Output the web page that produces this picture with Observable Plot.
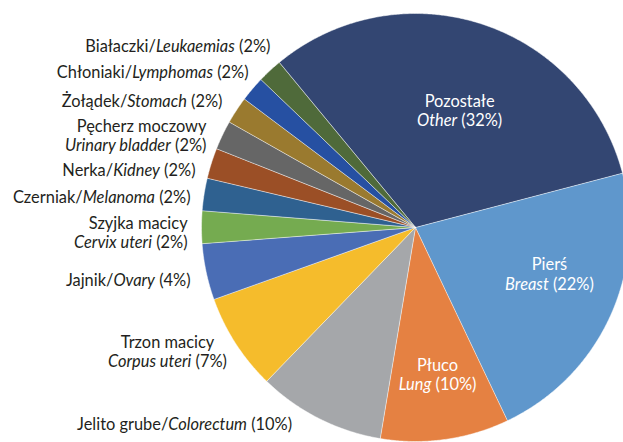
<!DOCTYPE html>
<html><head><meta charset="utf-8">
<script src="https://cdn.jsdelivr.net/npm/d3@7"></script>
<script src="https://cdn.jsdelivr.net/npm/@observablehq/plot@0.6"></script>
<style>
html,body{margin:0;padding:0;background:#fff;}
#chart svg{display:block;}
</style>
</head><body><div id="chart"></div>
<script>
// ---- data ----
const namesPl = ["Pozostałe","Pierś","Płuco","Jelito grube","Trzon macicy","Jajnik","Szyjka macicy","Czerniak","Nerka","Pęcherz moczowy","Żołądek","Chłoniaki","Białaczki"];
const namesEn = ["Other","Breast","Lung","Colorectum","Corpus uteri","Ovary","Cervix uteri","Melanoma","Kidney","Urinary bladder","Stomach","Lymphomas","Leukaemias"];
// slice sizes (%)
const shares  = [31.9,22.0,9.7,9.6,7.3,4.25,2.45,2.45,2.3,2.2,2.05,1.9,1.85];
// percentages as printed in the labels
const shownPct = [32,22,10,10,7,4,2,2,2,2,2,2,2];

// ---- styles ----
const sliceColors = ["#334672","#5f97cc","#e58142","#a5a7aa","#f5bc2c","#4a6db5","#75ab50","#2f6190","#9b4f26","#666666","#9a7a2f","#2650a2","#4f6a3a"];

// ---- layout ----
const W = 623, H = 442, CX = 415, CY = 227, R = 214;
const START = -39.6 * Math.PI / 180;
// label layout: [anchor x, anchor y] in radius units, text anchor, two lines?, inside?
const labelPos = [
  [0.206, 0.547, "middle", true, true],
  [0.626, -0.217, "middle", true, true],
  [0.103, -0.687, "middle", true, true],
  [-1.079, -0.916, "middle", false, false],
  [-1.159, -0.580, "middle", true, false],
  [-1.051, -0.243, "end", false, false],
  [-1.065, -0.021, "end", true, false],
  [-1.051, 0.145, "end", false, false],
  [-1.028, 0.269, "end", false, false],
  [-0.977, 0.432, "end", true, false],
  [-0.902, 0.593, "end", false, false],
  [-0.780, 0.726, "end", false, false],
  [-0.678, 0.850, "end", false, false]
];

const rows = namesPl.map((n, i) => ({name: n, en: namesEn[i], value: shares[i], pct: shownPct[i]}));
const arcs = d3.pie().sort(null).value(d => d.value).startAngle(START).endAngle(START + 2 * Math.PI)(rows);

const pts = [];
for (const a of arcs) {
  pts.push({name: a.data.name, x: 0, y: 0});
  const n = Math.max(2, Math.ceil((a.endAngle - a.startAngle) / (0.4 * Math.PI / 180)));
  for (let k = 0; k <= n; k++) {
    const t = a.startAngle + (a.endAngle - a.startAngle) * k / n;
    pts.push({name: a.data.name, x: Math.sin(t), y: Math.cos(t)});
  }
}

const labels = rows.map((r, i) => {
  const [x, y, anchor, two, inside] = labelPos[i];
  const text = two ? `${r.name}\n*${r.en}* (${r.pct}%)` : `${r.name}/*${r.en}* (${r.pct}%)`;
  return {x, y, anchor, inside, text};
});

const font = "Lato, 'Open Sans', sans-serif";
const FS = 16.4;
const chart = Plot.plot({
  width: W, height: H,
  margin: 0,
  x: {domain: [-CX / R, (W - CX) / R], axis: null},
  y: {domain: [-(H - CY) / R, CY / R], axis: null},
  color: {domain: namesPl, range: sliceColors},
  style: {fontFamily: font, background: "#fff"},
  marks: [
    Plot.line(pts, {x: "x", y: "y", z: "name", fill: "name", stroke: "#ffffff", strokeWidth: 0.6, strokeOpacity: 0.8, curve: "linear-closed"}),
    Plot.text(labels.filter(d => d.inside), {x: "x", y: "y", text: "text", textAnchor: "middle", fill: "#ffffff", fontSize: FS, lineHeight: 1.18}),
    Plot.text(labels.filter(d => !d.inside && d.anchor === "middle"), {x: "x", y: "y", text: "text", textAnchor: "middle", fill: "#231f20", fontSize: FS, lineHeight: 1.18}),
    Plot.text(labels.filter(d => !d.inside && d.anchor === "end"), {x: "x", y: "y", text: "text", textAnchor: "end", fill: "#231f20", fontSize: FS, lineHeight: 1.18})
  ]
});

// render *...* segments as italic tspans
function italicize(el) {
  const s = el.textContent;
  if (!s.includes("*")) return;
  el.textContent = "";
  s.split("*").forEach((part, i) => {
    if (!part) return;
    if (i % 2) {
      const t = document.createElementNS("http://www.w3.org/2000/svg", "tspan");
      t.setAttribute("font-style", "italic");
      t.textContent = part;
      el.appendChild(t);
    } else {
      el.appendChild(document.createTextNode(part));
    }
  });
}
chart.querySelectorAll("text").forEach(tx => {
  const spans = tx.querySelectorAll(":scope > tspan");
  if (spans.length) spans.forEach(italicize); else italicize(tx);
});
document.getElementById("chart").appendChild(chart);
</script>
</body></html>
